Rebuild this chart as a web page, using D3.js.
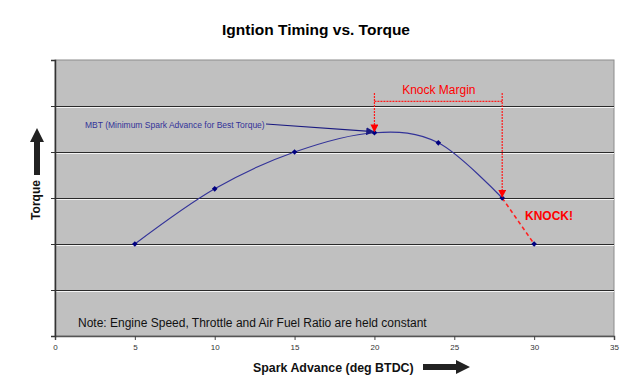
<!DOCTYPE html>
<html>
<head>
<meta charset="utf-8">
<script src="https://cdn.jsdelivr.net/npm/d3@7"></script>
<style>
  body { margin: 0; background: #fff; }
  svg { display: block; font-family: "Liberation Sans", Arial, sans-serif; }
</style>
</head>
<body>
<svg id="chart" width="630" height="387"></svg>
<script>
// values
const sparkAdvance = [5, 10, 15, 20, 24, 28, 30];
const torque = [2, 3.2, 4.0, 4.42, 4.2, 3.0, 2];
const xTicks = [0, 5, 10, 15, 20, 25, 30, 35];
const yTicks = [0, 1, 2, 3, 4, 5, 6];
const knockIndex = 5; // the curve turns into the dashed "knock" segment here
const mbtIndex = 3;

const svg = d3.select('#chart');
const plotLeft = 55, plotRight = 614, plotTop = 60, plotBottom = 336;

const x = d3.scaleLinear().domain([0, 35]).range([plotLeft, plotRight]);
const y = d3.scaleLinear().domain([0, 6]).range([plotBottom, plotTop]);

const defs = svg.append('defs');
function arrowMarker(id, color, size) {
  defs.append('marker')
    .attr('id', id)
    .attr('viewBox', '0 0 10 10')
    .attr('refX', 9).attr('refY', 5)
    .attr('markerWidth', size).attr('markerHeight', size)
    .attr('markerUnits', 'userSpaceOnUse')
    .attr('orient', 'auto')
    .append('path')
    .attr('d', 'M0,0 L10,5 L0,10 Z')
    .attr('fill', color);
}
arrowMarker('redArrow', '#ff0000', 8);
arrowMarker('blueArrow', '#1a1a80', 8);

// title
svg.append('text')
  .attr('x', 316).attr('y', 35)
  .attr('text-anchor', 'middle')
  .style('font-size', '15.5px').style('font-weight', 'bold')
  .text('Igntion Timing vs. Torque');

// plot area
svg.append('rect')
  .attr('x', plotLeft).attr('y', plotTop)
  .attr('width', plotRight - plotLeft).attr('height', plotBottom - plotTop)
  .attr('fill', '#c0c0c0')
  .attr('stroke', '#8c8c8c').attr('stroke-width', 1);

// gridlines
const grid = svg.append('g');
grid.selectAll('line.hl')
  .data(yTicks.slice(1, -1))
  .enter().append('line')
  .attr('class', 'hl')
  .attr('x1', plotLeft).attr('x2', plotRight)
  .attr('y1', d => y(d) + 1.5).attr('y2', d => y(d) + 1.5)
  .attr('stroke', '#f4f4f4').attr('stroke-width', 1);
grid.selectAll('line.gl')
  .data(yTicks.slice(1, -1))
  .enter().append('line')
  .attr('class', 'gl')
  .attr('x1', plotLeft).attr('x2', plotRight)
  .attr('y1', d => y(d) + 0.5).attr('y2', d => y(d) + 0.5)
  .attr('stroke', '#2a2a2a').attr('stroke-width', 1.2);

// axes
const xAxis = svg.append('g')
  .attr('transform', `translate(0,${plotBottom})`)
  .call(d3.axisBottom(x).tickValues(xTicks).tickSize(4).tickPadding(4));
xAxis.select('.domain').attr('stroke', '#555').attr('stroke-width', 1.5);
xAxis.selectAll('.tick line').attr('stroke', '#444');
xAxis.selectAll('text')
  .style('font-size', '8px').attr('fill', '#333')
  .style('font-family', '"Liberation Sans", Arial, sans-serif');

const yAxis = svg.append('g')
  .attr('transform', `translate(${plotLeft},0)`)
  .call(d3.axisLeft(y).tickValues(yTicks).tickSize(4).tickFormat(''));
yAxis.select('.domain').attr('stroke', '#333').attr('stroke-width', 1.5);
yAxis.selectAll('.tick line').attr('stroke', '#333');

// torque curve (smoothed), up to the knock point
const pts = sparkAdvance.map((d, i) => [x(d), y(torque[i])]);
svg.append('path')
  .attr('d', d3.line().curve(d3.curveCatmullRom.alpha(0))(pts.slice(0, knockIndex + 1)))
  .attr('fill', 'none')
  .attr('stroke', '#333399').attr('stroke-width', 1.1);

// knock segment, dashed red
svg.append('path')
  .attr('d', d3.line()(pts.slice(knockIndex)))
  .attr('fill', 'none')
  .attr('stroke', '#ff2020').attr('stroke-width', 1.5)
  .attr('stroke-dasharray', '4,3');

// markers
svg.selectAll('rect.pt')
  .data(pts)
  .enter().append('rect')
  .attr('class', 'pt')
  .attr('x', d => d[0] - 2).attr('y', d => d[1] - 2)
  .attr('width', 4).attr('height', 4)
  .attr('transform', d => `rotate(45,${d[0]},${d[1]})`)
  .attr('fill', '#000080');

// knock margin bracket
const marginTop = 5.28, marginBar = 5.1;
const xa = x(sparkAdvance[mbtIndex]), xb = x(sparkAdvance[knockIndex]);
const red = svg.append('g')
  .attr('stroke', '#ff1a1a').attr('stroke-width', 1.2)
  .attr('stroke-dasharray', '2,1').attr('fill', 'none');
red.append('line')
  .attr('x1', xa).attr('x2', xb)
  .attr('y1', y(marginBar)).attr('y2', y(marginBar));
red.append('line')
  .attr('x1', xa).attr('x2', xa)
  .attr('y1', y(marginTop)).attr('y2', y(torque[mbtIndex]) - 1)
  .attr('marker-end', 'url(#redArrow)');
red.append('line')
  .attr('x1', xb).attr('x2', xb)
  .attr('y1', y(marginTop)).attr('y2', y(torque[knockIndex]) - 1)
  .attr('marker-end', 'url(#redArrow)');

svg.append('text')
  .attr('x', (xa + xb) / 2 + 0.5).attr('y', 94)
  .attr('text-anchor', 'middle')
  .attr('fill', '#ff0000')
  .style('font-size', '12px')
  .text('Knock Margin');

svg.append('text')
  .attr('x', 525).attr('y', 220)
  .attr('fill', '#ff0000')
  .style('font-size', '12px').style('font-weight', 'bold')
  .text('KNOCK!');

// MBT callout
svg.append('text')
  .attr('x', 85).attr('y', 128)
  .attr('fill', '#333399')
  .style('font-size', '8.5px')
  .text('MBT (Minimum Spark Advance for Best Torque)');
svg.append('line')
  .attr('x1', 266).attr('y1', 124)
  .attr('x2', xa - 1).attr('y2', y(torque[mbtIndex]) - 1)
  .attr('stroke', '#1a1a80').attr('stroke-width', 1.2)
  .attr('marker-end', 'url(#blueArrow)');

// note
svg.append('text')
  .attr('x', 78).attr('y', 327)
  .attr('fill', '#111')
  .style('font-size', '12px')
  .text('Note: Engine Speed, Throttle and Air Fuel Ratio are held constant');

// axis titles with block arrows
svg.append('text')
  .attr('x', 253).attr('y', 372)
  .style('font-size', '12.4px').style('font-weight', 'bold')
  .attr('fill', '#111')
  .text('Spark Advance (deg BTDC)');
svg.append('path')
  .attr('d', 'M423,364 L456,364 L456,360 L470,367 L456,374 L456,370 L423,370 Z')
  .attr('fill', '#222');

svg.append('text')
  .attr('transform', 'translate(40,200) rotate(-90)')
  .attr('text-anchor', 'middle')
  .style('font-size', '12px').style('font-weight', 'bold')
  .attr('fill', '#111')
  .text('Torque');
svg.append('path')
  .attr('d', 'M34,175 L34,142 L30,142 L37,128 L44,142 L40,142 L40,175 Z')
  .attr('fill', '#222');
</script>
</body>
</html>
